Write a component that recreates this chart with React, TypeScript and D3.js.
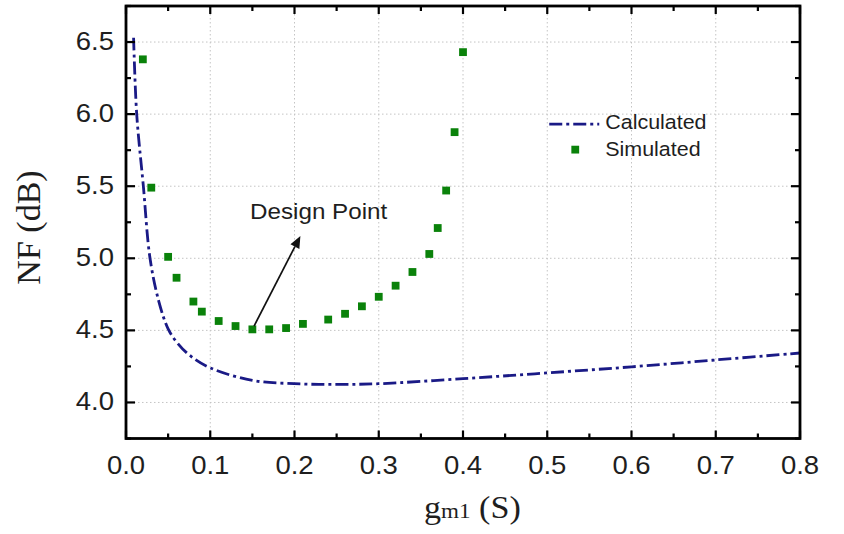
import React from "react";
import * as d3 from "d3";

// ---- data ----
const simX = [0.02, 0.03, 0.05, 0.06, 0.08, 0.09, 0.11, 0.13, 0.15, 0.17, 0.19, 0.21, 0.24, 0.26, 0.28, 0.30, 0.32, 0.34, 0.36, 0.37, 0.38, 0.39, 0.40];
const simY = [6.38, 5.49, 5.01, 4.865, 4.70, 4.63, 4.565, 4.53, 4.507, 4.507, 4.516, 4.545, 4.575, 4.615, 4.667, 4.733, 4.81, 4.905, 5.03, 5.21, 5.47, 5.875, 6.43];
const calcX = [0.009, 0.0127, 0.0206, 0.0285, 0.039, 0.05, 0.06, 0.075, 0.10, 0.15, 0.20, 0.25, 0.30, 0.40, 0.50, 0.60, 0.70, 0.80];
const calcY = [6.53, 6.0, 5.5, 5.0, 4.7, 4.51, 4.42, 4.33, 4.24, 4.153, 4.13, 4.125, 4.13, 4.165, 4.205, 4.247, 4.295, 4.343];
const xTicks = [0, 0.1, 0.2, 0.3, 0.4, 0.5, 0.6, 0.7, 0.8];
const xMinor = [0.05, 0.15, 0.25, 0.35, 0.45, 0.55, 0.65, 0.75];
const yTicks = [4.0, 4.5, 5.0, 5.5, 6.0, 6.5];
const yMinor = [3.75, 4.25, 4.75, 5.25, 5.75, 6.25, 6.75];
const seriesNames = ["Calculated", "Simulated"];
const annotationText = "Design Point";
const designPoint = [0.152, 4.53];
const arrowTip = [0.207, 5.155];

const W = 844, H = 534;
const L = 126, R = 800, T = 6, B = 438.5;
const SX = 1.1;

export default function App() {
  const x = d3.scaleLinear().domain([0, 0.8]).range([L, R]);
  const y = d3.scaleLinear().domain([3.75, 6.75]).range([B, T]);
  const fmt = d3.format(".1f");
  const calcPts: [number, number][] = calcX.map((v, i) => [v, calcY[i]]);
  const line = d3.line<[number, number]>().x(d => x(d[0])).y(d => y(d[1])).curve(d3.curveCatmullRom.alpha(0.5));

  const navy = "#1a1a86";
  const green = "#0a820a";
  const txt = "#1e1e1e";

  // arrow geometry
  const ax0 = x(designPoint[0]), ay0 = y(designPoint[1]);
  const ax1 = x(arrowTip[0]), ay1 = y(arrowTip[1]);
  const ang = Math.atan2(ay1 - ay0, ax1 - ax0);
  const hl = 12, hw = 5;
  const bx = ax1 - hl * Math.cos(ang), by = ay1 - hl * Math.sin(ang);
  const head = `M${ax1},${ay1} L${bx + hw * Math.sin(ang)},${by - hw * Math.cos(ang)} L${bx - hw * Math.sin(ang)},${by + hw * Math.cos(ang)} Z`;

  const legX = x(0.5) + 1;
  const legY1 = y(6.0) + 10;
  const legY2 = legY1 + 25.5;

  return (
    <svg width={W} height={H} style={{ position: "absolute", left: 0, top: 0, background: "#fff" }}>
      <rect x={0} y={0} width={W} height={H} fill="#fff" />
      {/* grid */}
      {xTicks.map(t => (
        <line key={"gx" + t} x1={x(t)} x2={x(t)} y1={T} y2={B} stroke="#c4c4c4" strokeWidth={1} strokeDasharray="1.5,2.5" />
      ))}
      {yTicks.map(t => (
        <line key={"gy" + t} x1={L} x2={R} y1={y(t)} y2={y(t)} stroke="#c4c4c4" strokeWidth={1} strokeDasharray="1.5,2.5" />
      ))}
      {/* calculated curve */}
      <path d={line(calcPts) || ""} fill="none" stroke={navy} strokeWidth={2.8} strokeDasharray="13,4,3,4" />
      {/* simulated points */}
      {simX.map((v, i) => (
        <rect key={"s" + i} x={x(v) - 3.9} y={y(simY[i]) - 3.9} width={7.8} height={7.8} fill={green} />
      ))}
      {/* annotation */}
      <line x1={ax0} y1={ay0} x2={bx} y2={by} stroke="#111" strokeWidth={1.7} />
      <path d={head} fill="#111" />
      <text transform={`translate(${x(0.1473)},${y(5.276)}) scale(${SX},1)`} fontFamily="Liberation Sans, Arial, sans-serif" fontSize={22} fill={txt}>{annotationText}</text>
      {/* legend */}
      <line x1={legX} x2={legX + 51} y1={legY1} y2={legY1} stroke={navy} strokeWidth={2.8} strokeDasharray="13,4,3,4" strokeDashoffset={-1} />
      <text transform={`translate(${legX + 57},${legY1 + 4.5}) scale(${SX},1)`} fontFamily="Liberation Sans, Arial, sans-serif" fontSize={19.5} fill={txt}>{seriesNames[0]}</text>
      <rect x={legX + 27 - 3.9} y={legY2 - 3.9} width={7.8} height={7.8} fill={green} />
      <text transform={`translate(${legX + 57},${legY2 + 6}) scale(${SX},1)`} fontFamily="Liberation Sans, Arial, sans-serif" fontSize={19.5} fill={txt}>{seriesNames[1]}</text>
      {/* ticks */}
      {xTicks.map(t => (
        <g key={"xt" + t}>
          <line x1={x(t)} x2={x(t)} y1={B} y2={B - 8} stroke="#000" strokeWidth={2.2} />
          <line x1={x(t)} x2={x(t)} y1={T} y2={T + 8} stroke="#000" strokeWidth={2.2} />
          <text transform={`translate(${x(t)},${473.5}) scale(${SX},1)`} textAnchor="middle" fontFamily="Liberation Sans, Arial, sans-serif" fontSize={25} fill={txt}>{fmt(t)}</text>
        </g>
      ))}
      {xMinor.map(t => (
        <g key={"xm" + t}>
          <line x1={x(t)} x2={x(t)} y1={B} y2={B - 5} stroke="#000" strokeWidth={2.2} />
          <line x1={x(t)} x2={x(t)} y1={T} y2={T + 5} stroke="#000" strokeWidth={2.2} />
        </g>
      ))}
      {yTicks.map(t => (
        <g key={"yt" + t}>
          <line x1={L} x2={L + 9} y1={y(t)} y2={y(t)} stroke="#000" strokeWidth={2.2} />
          <line x1={R} x2={R - 9} y1={y(t)} y2={y(t)} stroke="#000" strokeWidth={2.2} />
          <text transform={`translate(${L - 12},${y(t) + 8}) scale(${SX},1)`} textAnchor="end" fontFamily="Liberation Sans, Arial, sans-serif" fontSize={25} fill={txt}>{fmt(t)}</text>
        </g>
      ))}
      {yMinor.map(t => (
        <g key={"ym" + t}>
          <line x1={L} x2={L + 5} y1={y(t)} y2={y(t)} stroke="#000" strokeWidth={2.2} />
          <line x1={R} x2={R - 5} y1={y(t)} y2={y(t)} stroke="#000" strokeWidth={2.2} />
        </g>
      ))}
      {/* frame */}
      <rect x={L} y={T} width={R - L} height={B - T} fill="none" stroke="#000" strokeWidth={2.8} />
      {/* axis titles */}
      <text transform="translate(40,227.5) rotate(-90)" textAnchor="middle" fontFamily="Liberation Serif, Times New Roman, serif" fontSize={34} fill={txt}>NF (dB)</text>
      <text transform={`translate(424,518) scale(${SX},1)`} fontFamily="Liberation Serif, Times New Roman, serif" fill={txt}>
        <tspan fontSize={31}>g</tspan>
        <tspan fontSize={21}>m1</tspan>
        <tspan fontSize={31}> (S)</tspan>
      </text>
    </svg>
  );
}
